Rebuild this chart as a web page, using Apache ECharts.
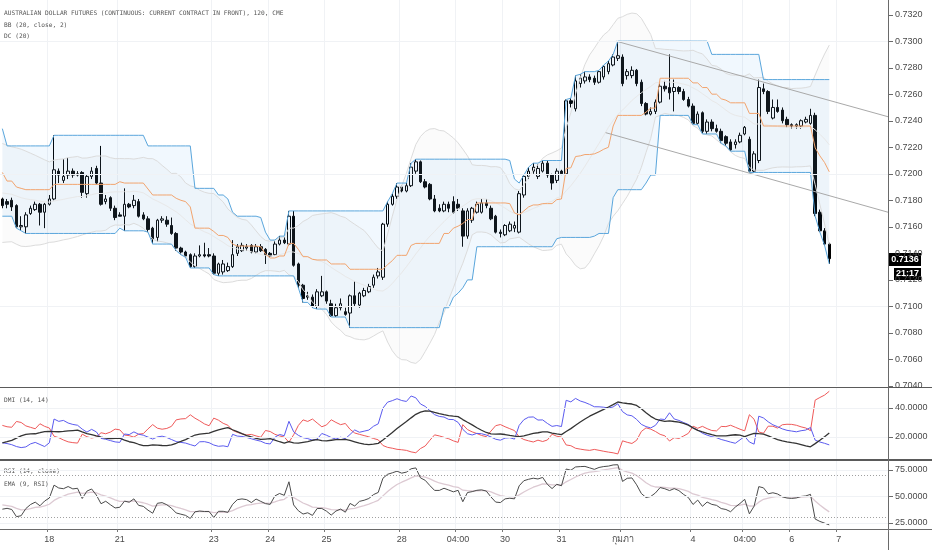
<!DOCTYPE html>
<html>
<head>
<meta charset="utf-8">
<script src="https://cdn.jsdelivr.net/npm/echarts@6/dist/echarts.min.js"></script>
<style>
  html, body { margin: 0; padding: 0; background: #fff; }
  #chart { width: 932px; height: 550px; }
</style>
</head>
<body>
<div id="chart"></div>
<script>
// 120 min bars
const opens = [
  0.7181, 0.7179, 0.7180, 0.7176, 0.7160, 0.7160, 0.7170, 0.7173, 0.7177, 0.7171,
  0.7177, 0.7181, 0.7202, 0.7195, 0.7199, 0.7202, 0.7199, 0.7201, 0.7185, 0.7198,
  0.7204, 0.7193, 0.7179, 0.7182, 0.7174, 0.7169, 0.7168, 0.7177, 0.7176, 0.7179,
  0.7169, 0.7166, 0.7159, 0.7152, 0.7165, 0.7165, 0.7161, 0.7155, 0.7144, 0.7141,
  0.7139, 0.7130, 0.7138, 0.7139, 0.7139, 0.7138, 0.7125, 0.7126, 0.7127, 0.7130,
  0.7140, 0.7142, 0.7144, 0.7146, 0.7141, 0.7145, 0.7143, 0.7140, 0.7139, 0.7147,
  0.7150, 0.7147, 0.7168, 0.7132, 0.7116, 0.7107, 0.7107, 0.7100, 0.7108, 0.7111,
  0.7102, 0.7093, 0.7099, 0.7096, 0.7095, 0.7108, 0.7101, 0.7108, 0.7111, 0.7116,
  0.7123, 0.7122, 0.7162, 0.7177, 0.7183, 0.7190, 0.7187, 0.7191, 0.7202, 0.7209,
  0.7194, 0.7192, 0.7181, 0.7174, 0.7172, 0.7177, 0.7179, 0.7177, 0.7172, 0.7153,
  0.7165, 0.7171, 0.7171, 0.7178, 0.7174, 0.7168, 0.7156, 0.7154, 0.7157, 0.7159,
  0.7156, 0.7184, 0.7198, 0.7202, 0.7198, 0.7202, 0.7208, 0.7199, 0.7195, 0.7202,
  0.7200, 0.7255, 0.7249, 0.7268, 0.7270, 0.7273, 0.7272, 0.7269, 0.7273, 0.7277,
  0.7282, 0.7287, 0.7288, 0.7274, 0.7274, 0.7278, 0.7269, 0.7253, 0.7245, 0.7247,
  0.7254, 0.7266, 0.7265, 0.7262, 0.7265, 0.7262, 0.7256, 0.7251, 0.7238, 0.7246,
  0.7232, 0.7239, 0.7234, 0.7232, 0.7228, 0.7224, 0.7222, 0.7224, 0.7230, 0.7226,
  0.7202, 0.7210, 0.7264, 0.7262, 0.7242, 0.7250, 0.7248, 0.7241, 0.7237, 0.7236,
  0.7236, 0.7239, 0.7238, 0.7244, 0.7171, 0.7157, 0.7147
];
const closes = [
  0.7176, 0.7177, 0.7175, 0.7160, 0.7161, 0.7169, 0.7174, 0.7177, 0.7171, 0.7177,
  0.7181, 0.7203, 0.7199, 0.7198, 0.7202, 0.7199, 0.7200, 0.7186, 0.7198, 0.7202,
  0.7193, 0.7177, 0.7181, 0.7174, 0.7167, 0.7168, 0.7177, 0.7175, 0.7180, 0.7168,
  0.7166, 0.7158, 0.7151, 0.7165, 0.7166, 0.7162, 0.7155, 0.7144, 0.7141, 0.7138,
  0.7130, 0.7138, 0.7139, 0.7138, 0.7138, 0.7125, 0.7132, 0.7132, 0.7130, 0.7139,
  0.7145, 0.7146, 0.7145, 0.7141, 0.7145, 0.7142, 0.7139, 0.7138, 0.7147, 0.7150,
  0.7148, 0.7168, 0.7131, 0.7116, 0.7106, 0.7108, 0.7100, 0.7111, 0.7111, 0.7104,
  0.7093, 0.7099, 0.7102, 0.7094, 0.7108, 0.7102, 0.7110, 0.7112, 0.7115, 0.7122,
  0.7126, 0.7162, 0.7177, 0.7183, 0.7190, 0.7187, 0.7191, 0.7205, 0.7209, 0.7194,
  0.7190, 0.7181, 0.7172, 0.7172, 0.7177, 0.7174, 0.7171, 0.7174, 0.7153, 0.7172,
  0.7174, 0.7177, 0.7178, 0.7176, 0.7166, 0.7156, 0.7155, 0.7161, 0.7162, 0.7161,
  0.7185, 0.7198, 0.7202, 0.7205, 0.7204, 0.7208, 0.7199, 0.7193, 0.7202, 0.7200,
  0.7255, 0.7253, 0.7270, 0.7272, 0.7273, 0.7271, 0.7269, 0.7277, 0.7281, 0.7283,
  0.7288, 0.7289, 0.7268, 0.7277, 0.7278, 0.7268, 0.7253, 0.7245, 0.7247, 0.7254,
  0.7266, 0.7264, 0.7261, 0.7265, 0.7262, 0.7256, 0.7251, 0.7238, 0.7245, 0.7232,
  0.7239, 0.7234, 0.7232, 0.7225, 0.7223, 0.7218, 0.7224, 0.7229, 0.7235, 0.7202,
  0.7215, 0.7265, 0.7262, 0.7247, 0.7250, 0.7247, 0.7240, 0.7237, 0.7236, 0.7237,
  0.7240, 0.7241, 0.7244, 0.7170, 0.7157, 0.7147, 0.7136
];
const highs = [
  0.7182, 0.7181, 0.7182, 0.7177, 0.7168, 0.7171, 0.7176, 0.7179, 0.7178, 0.7178,
  0.7184, 0.7229, 0.7204, 0.7211, 0.7212, 0.7204, 0.7202, 0.7202, 0.7199, 0.7205,
  0.7206, 0.7221, 0.7184, 0.7183, 0.7176, 0.7171, 0.7189, 0.7178, 0.7184, 0.7181,
  0.7171, 0.7168, 0.7160, 0.7166, 0.7168, 0.7168, 0.7167, 0.7156, 0.7145, 0.7142,
  0.7140, 0.7140, 0.7146, 0.7148, 0.7144, 0.7140, 0.7133, 0.7135, 0.7133, 0.7150,
  0.7147, 0.7148, 0.7147, 0.7147, 0.7147, 0.7147, 0.7144, 0.7141, 0.7149, 0.7153,
  0.7152, 0.7172, 0.7172, 0.7133, 0.7117, 0.7111, 0.7109, 0.7113, 0.7123, 0.7112,
  0.7105, 0.7102, 0.7106, 0.7099, 0.7109, 0.7119, 0.7111, 0.7114, 0.7117, 0.7124,
  0.7129, 0.7163, 0.7179, 0.7185, 0.7193, 0.7191, 0.7193, 0.7208, 0.7211, 0.7210,
  0.7196, 0.7193, 0.7184, 0.7177, 0.7179, 0.7179, 0.7183, 0.7181, 0.7174, 0.7174,
  0.7175, 0.7179, 0.7181, 0.7181, 0.7176, 0.7169, 0.7158, 0.7162, 0.7164, 0.7164,
  0.7187, 0.7199, 0.7205, 0.7208, 0.7207, 0.7210, 0.7210, 0.7200, 0.7204, 0.7203,
  0.7256, 0.7257, 0.7274, 0.7275, 0.7277, 0.7275, 0.7274, 0.7278, 0.7282, 0.7285,
  0.7290, 0.7300, 0.7290, 0.7279, 0.7281, 0.7279, 0.7271, 0.7254, 0.7250, 0.7256,
  0.7268, 0.7270, 0.7290, 0.7271, 0.7266, 0.7264, 0.7258, 0.7253, 0.7247, 0.7247,
  0.7241, 0.7241, 0.7237, 0.7234, 0.7229, 0.7226, 0.7226, 0.7231, 0.7236, 0.7228,
  0.7217, 0.7271, 0.7268, 0.7263, 0.7256, 0.7256, 0.7250, 0.7243, 0.7238, 0.7238,
  0.7241, 0.7243, 0.7249, 0.7246, 0.7173, 0.7159, 0.7148
];
const lows = [
  0.7174, 0.7174, 0.7172, 0.7159, 0.7157, 0.7155, 0.7169, 0.7172, 0.7161, 0.7159,
  0.7176, 0.7180, 0.7193, 0.7193, 0.7196, 0.7197, 0.7198, 0.7182, 0.7182, 0.7196,
  0.7192, 0.7176, 0.7177, 0.7172, 0.7165, 0.7168, 0.7157, 0.7174, 0.7174, 0.7167,
  0.7165, 0.7156, 0.7147, 0.7149, 0.7163, 0.7160, 0.7154, 0.7142, 0.7139, 0.7137,
  0.7129, 0.7129, 0.7137, 0.7137, 0.7137, 0.7124, 0.7123, 0.7124, 0.7126, 0.7129,
  0.7138, 0.7141, 0.7142, 0.7140, 0.7140, 0.7141, 0.7132, 0.7137, 0.7138, 0.7146,
  0.7147, 0.7146, 0.7130, 0.7114, 0.7103, 0.7105, 0.7099, 0.7098, 0.7107, 0.7102,
  0.7092, 0.7092, 0.7097, 0.7093, 0.7084, 0.7100, 0.7099, 0.7107, 0.7110, 0.7114,
  0.7121, 0.7120, 0.7160, 0.7176, 0.7181, 0.7186, 0.7186, 0.7190, 0.7200, 0.7193,
  0.7189, 0.7180, 0.7171, 0.7171, 0.7171, 0.7171, 0.7170, 0.7172, 0.7145, 0.7151,
  0.7163, 0.7170, 0.7170, 0.7174, 0.7165, 0.7155, 0.7152, 0.7153, 0.7156, 0.7156,
  0.7155, 0.7182, 0.7196, 0.7200, 0.7196, 0.7201, 0.7197, 0.7188, 0.7193, 0.7199,
  0.7199, 0.7250, 0.7247, 0.7265, 0.7268, 0.7269, 0.7267, 0.7268, 0.7271, 0.7275,
  0.7281, 0.7285, 0.7266, 0.7271, 0.7272, 0.7266, 0.7251, 0.7244, 0.7244, 0.7245,
  0.7253, 0.7262, 0.7256, 0.7247, 0.7260, 0.7255, 0.7250, 0.7237, 0.7237, 0.7230,
  0.7230, 0.7232, 0.7231, 0.7223, 0.7221, 0.7217, 0.7219, 0.7223, 0.7229, 0.7201,
  0.7201, 0.7208, 0.7260, 0.7245, 0.7241, 0.7246, 0.7238, 0.7235, 0.7234, 0.7234,
  0.7234, 0.7238, 0.7237, 0.7168, 0.7156, 0.7146, 0.7132
];

// indicator readings at the first bar (history before the view)
const bbLeadMean = 0.7186;
const bbLeadSd = 0.0019;
const dcLeadHighs = [[0.7234, 0], [0.7221, 12]];   // [price, last bar it still counts]
const dcLeadLows = [[0.7168, 2]];
const plusDiStart = 16;
const minusDiStart = 28;
const adxStart = 16;
const rsiStart = 38;
const rsiEmaStart = 42;

// bottom axis labels: bar slot -> text
const tickIndex = [10, 25, 45, 57, 69, 85, 97, 107, 119, 132, 147, 158, 168, 178];
const tickText = ['18', '21', '23', '24', '25', '28', '04:00', '30', '31', 'กุมภา', '4', '04:00', '6', '7'];

// price scale ticks and the two lower panes' ticks
const priceTicks = [0.7040, 0.7060, 0.7080, 0.7100, 0.7120, 0.7140, 0.7160, 0.7180, 0.7200,
  0.7220, 0.7240, 0.7260, 0.7280, 0.7300, 0.7320];
const dmiTicks = [20, 40];
const rsiTicks = [25, 50, 75];
const rsiBands = [30, 70];

// hand drawn channel (bar slot, price)
const channelUpper = [[130.6, 0.7300], [188.5, 0.7243]];
const channelLower = [[128.4, 0.7231], [188.5, 0.7171]];

const lastTime = '21:17';
const slotCount = 189;

// ---- indicators from the bars ----
const n = closes.length;
const mean = arr => arr.reduce((a, b) => a + b, 0) / arr.length;

// BB (20, close, 2) and DC (20)
let bbMid = [], bbUp = [], bbLow = [], dcUp = [], dcLow = [], dcMid = [];
for (let i = 0; i < n; i++) {
  let s = Math.max(0, i - 19);
  let win = closes.slice(s, i + 1);
  let k = 20 - win.length;
  let sum = win.reduce((a, b) => a + b, 0) + k * bbLeadMean;
  let sq = win.reduce((a, b) => a + b * b, 0) + k * (bbLeadSd * bbLeadSd + bbLeadMean * bbLeadMean);
  let m = sum / 20;
  let sd = Math.sqrt(Math.max(sq / 20 - m * m, 0));
  bbMid.push(m);
  bbUp.push(m + 2 * sd);
  bbLow.push(m - 2 * sd);
  let hi = Math.max(...highs.slice(s, i + 1));
  let lo = Math.min(...lows.slice(s, i + 1));
  dcLeadHighs.forEach(([p, last]) => { if (i <= last) hi = Math.max(hi, p); });
  dcLeadLows.forEach(([p, last]) => { if (i <= last) lo = Math.min(lo, p); });
  dcUp.push(hi);
  dcLow.push(lo);
  dcMid.push((hi + lo) / 2);
}

// DMI (14, 14)
let trList = [], pdmList = [], mdmList = [];
for (let i = 1; i < n; i++) {
  let up = highs[i] - highs[i - 1];
  let dn = lows[i - 1] - lows[i];
  pdmList.push(up > dn && up > 0 ? up : 0);
  mdmList.push(dn > up && dn > 0 ? dn : 0);
  trList.push(Math.max(highs[i] - lows[i], Math.abs(highs[i] - closes[i - 1]), Math.abs(lows[i] - closes[i - 1])));
}
let trS = mean(trList.slice(0, 14));
let pS = trS * plusDiStart / 100, mS = trS * minusDiStart / 100, adx = adxStart;
let plusDI = [plusDiStart], minusDI = [minusDiStart], adxLine = [adxStart];
for (let j = 0; j < trList.length; j++) {
  trS += (trList[j] - trS) / 14;
  pS += (pdmList[j] - pS) / 14;
  mS += (mdmList[j] - mS) / 14;
  let p = 100 * pS / trS, m = 100 * mS / trS;
  adx += (100 * Math.abs(p - m) / ((p + m) || 1) - adx) / 14;
  plusDI.push(p);
  minusDI.push(m);
  adxLine.push(adx);
}

// RSI (14) and EMA (9) of it
let moves = [];
for (let i = 1; i < n; i++) moves.push(closes[i] - closes[i - 1]);
let absMove = mean(moves.slice(0, 14).map(Math.abs));
let gS = absMove * rsiStart / 100, lS = absMove * (1 - rsiStart / 100), e = rsiEmaStart;
let rsi = [rsiStart], rsiEma = [rsiEmaStart];
moves.forEach(d => {
  gS += (Math.max(d, 0) - gS) / 14;
  lS += (Math.max(-d, 0) - lS) / 14;
  let r = lS === 0 ? 100 : 100 - 100 / (1 + gS / lS);
  e += (2 / 10) * (r - e);
  rsi.push(r);
  rsiEma.push(e);
});

const cats = Array.from({ length: slotCount }, (_, i) => String(i));
const candleData = opens.map((o, i) => [o, closes[i], lows[i], highs[i]]);
const dcSpan = dcUp.map((v, i) => v - dcLow[i]);
const bbSpan = bbUp.map((v, i) => v - bbLow[i]);

const labelFont = 'Liberation Sans';
const monoFont = 'DejaVu Sans Mono';
const showTick = idx => tickIndex.includes(idx);

function lineS(data, color, width, xi, yi, extra) {
  return Object.assign({
    type: 'line', data: data, xAxisIndex: xi, yAxisIndex: yi,
    showSymbol: false, symbol: 'none', silent: true,
    lineStyle: { color: color, width: width }
  }, extra || {});
}

function catAxis(gi, labels) {
  return {
    type: 'category', gridIndex: gi, data: cats, boundaryGap: true,
    axisLine: { show: false },
    axisTick: { show: labels, interval: showTick, length: 3, lineStyle: { color: '#777' } },
    axisLabel: {
      show: labels, interval: showTick, color: '#4a4a4a', fontSize: 9, fontFamily: labelFont, margin: 6,
      formatter: (v, idx) => tickText[tickIndex.indexOf(Number(v))] || ''
    },
    splitLine: { show: true, interval: showTick, lineStyle: { color: '#f0f2f5', width: 1 } }
  };
}

function valAxis(gi, min, max, ticks) {
  return {
    type: 'value', gridIndex: gi, position: 'right', min: min, max: max,
    axisLine: { show: false },
    axisTick: { show: false },
    axisLabel: { color: '#4a4a4a', fontSize: 9, fontFamily: labelFont, margin: 7,
      customValues: ticks, formatter: v => v.toFixed(4) },
    splitLine: { show: false }
  };
}

function hLines(vals, color, type) {
  return {
    silent: true, symbol: 'none', label: { show: false },
    lineStyle: { color: color, type: type, width: 1 },
    data: vals.map(v => ({ yAxis: v }))
  };
}

const chart = echarts.init(document.getElementById('chart'));

const option = {
  animation: false,
  backgroundColor: '#ffffff',
  grid: [
    { left: 0, right: 44, top: 0, height: 386 },
    { left: 0, right: 44, top: 388, height: 71 },
    { left: 0, right: 44, top: 461, height: 68 }
  ],
  xAxis: [
    catAxis(0, false),
    catAxis(1, false),
    catAxis(2, true),
    { type: 'value', gridIndex: 0, min: -0.5, max: slotCount - 0.5, show: false }
  ],
  yAxis: [
    valAxis(0, 0.7040, 0.7331, priceTicks),
    valAxis(1, 4.8, 53.8, dmiTicks),
    valAxis(2, 19.3, 83.5, rsiTicks)
  ],
  series: [
    // Bollinger fill
    lineS(bbLow, 'rgba(0,0,0,0)', 0, 0, 0, { stack: 'bb' }),
    lineS(bbSpan, 'rgba(0,0,0,0)', 0, 0, 0, { stack: 'bb', areaStyle: { color: 'rgba(200,200,200,0.10)' } }),
    // Donchian fill
    lineS(dcLow, 'rgba(0,0,0,0)', 0, 0, 0, { stack: 'dc', markLine: hLines(priceTicks, '#f0f2f5', 'solid') }),
    lineS(dcSpan, 'rgba(0,0,0,0)', 0, 0, 0, { stack: 'dc', areaStyle: { color: 'rgba(33,150,243,0.09)' } }),
    lineS(bbUp, '#dcdcdc', 1, 0, 0),
    lineS(bbLow, '#dcdcdc', 1, 0, 0),
    lineS(bbMid, '#e8e8e8', 1, 0, 0),
    lineS(dcUp, '#5aa6dc', 1, 0, 0),
    lineS(dcLow, '#5aa6dc', 1, 0, 0),
    lineS(dcMid, '#f2a46e', 1, 0, 0),
    {
      type: 'candlestick', data: candleData, xAxisIndex: 0, yAxisIndex: 0, barWidth: 3,
      silent: true,
      itemStyle: { color: '#ffffff', color0: '#000000', borderColor: '#000000', borderColor0: '#000000', borderWidth: 1 }
    },
    lineS(channelUpper, '#a9a9a9', 1, 3, 0),
    lineS(channelLower, '#a9a9a9', 1, 3, 0),
    // DMI
    lineS(minusDI, '#ef5a5a', 1, 1, 1, { markLine: hLines(dmiTicks, '#f0f2f5', 'solid') }),
    lineS(plusDI, '#5b5bef', 1, 1, 1),
    lineS(adxLine, '#333333', 1.3, 1, 1),
    // RSI
    lineS(rsiEma, '#dcc9d2', 1.3, 2, 2, { markLine: hLines(rsiTicks, '#f0f2f5', 'solid') }),
    lineS(rsi, '#4a4a4a', 1, 2, 2, { markLine: hLines(rsiBands, '#a0a0a0', [1, 2]) })
  ]
};

chart.setOption(option);

const lastClose = closes[closes.length - 1];
const py = Math.round(chart.convertToPixel({ yAxisIndex: 0 }, lastClose));

function txt(x, y, s, size) {
  return { type: 'text', x: x, y: y, silent: true,
    style: { text: s, fill: '#555', font: size + 'px "' + monoFont + '"', textVerticalAlign: 'middle' } };
}
function hl(x1, y1, x2, y2, c, w) {
  return { type: 'line', silent: true, shape: { x1: x1, y1: y1, x2: x2, y2: y2 }, style: { stroke: c, lineWidth: w } };
}

// small outward ticks right of the scale line
let tickMarks = [];
[[0, priceTicks], [1, dmiTicks], [2, rsiTicks]].forEach(([ai, vals]) => {
  vals.forEach(v => {
    let y = Math.round(chart.convertToPixel({ yAxisIndex: ai }, v)) + 0.5;
    tickMarks.push(hl(889, y, 893, y, '#6a6a6a', 1));
  });
});

chart.setOption({
  graphic: [
    txt(4, 13, 'AUSTRALIAN DOLLAR FUTURES (CONTINUOUS: CURRENT CONTRACT IN FRONT), 120, CME', 6.2),
    txt(4, 25, 'BB (20, close, 2)', 6.2),
    txt(4, 36, 'DC (20)', 6.2),
    txt(4, 400, 'DMI (14, 14)', 6.2),
    txt(4, 471, 'RSI (14, close)', 6.2),
    txt(4, 484, 'EMA (9, RSI)', 6.2),
    hl(0, 387.5, 932, 387.5, '#5a5a5a', 1),
    hl(0, 460, 932, 460, '#5a5a5a', 2),
    hl(0, 529.5, 932, 529.5, '#6a6a6a', 1),
    hl(888.5, 0, 888.5, 550, '#6a6a6a', 1)
  ].concat(tickMarks).concat([
    { type: 'rect', silent: true, shape: { x: 889, y: py - 6, width: 32, height: 13 }, style: { fill: '#000' } },
    { type: 'text', silent: true, x: 905, y: py + 0.5,
      style: { text: lastClose.toFixed(4), fill: '#fff', font: 'bold 9px "' + labelFont + '"', textAlign: 'center', textVerticalAlign: 'middle' } },
    { type: 'rect', silent: true, shape: { x: 894, y: py + 9, width: 27, height: 12 }, style: { fill: '#000' } },
    { type: 'text', silent: true, x: 907.5, y: py + 15,
      style: { text: lastTime, fill: '#fff', font: 'bold 9px "' + labelFont + '"', textAlign: 'center', textVerticalAlign: 'middle' } }
  ])
});
</script>
</body>
</html>
